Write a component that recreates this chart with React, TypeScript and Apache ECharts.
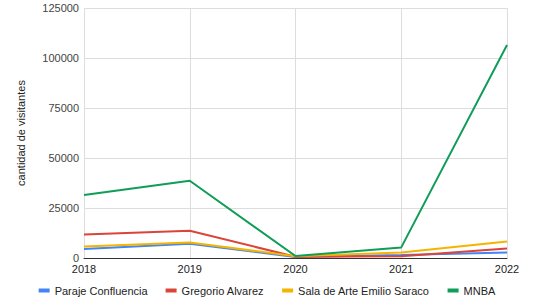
import React, { useEffect, useRef } from "react";
import * as echarts from "echarts";

const years = ["2018", "2019", "2020", "2021", "2022"];
const parajeConfluencia = [4500, 7100, 500, 1500, 2800];
const gregorioAlvarez = [11700, 13600, 600, 900, 4700];
const salaArte = [5800, 7700, 900, 2800, 8300];
const mnba = [31500, 38600, 1000, 5300, 106500];

const seriesDefs = [
  { name: "Paraje Confluencia", data: parajeConfluencia, color: "#4285F4" },
  { name: "Gregorio Alvarez", data: gregorioAlvarez, color: "#DB4437" },
  { name: "Sala de Arte Emilio Saraco", data: salaArte, color: "#F4B400" },
  { name: "MNBA", data: mnba, color: "#0F9D58" },
];

const FONT = "Liberation Sans";

export default function App() {
  const ref = useRef<HTMLDivElement>(null);
  useEffect(() => {
    if (!ref.current) return;
    const chart = echarts.init(ref.current, undefined, { renderer: "svg" });
    chart.setOption({
      animation: false,
      textStyle: { fontFamily: FONT },
      grid: { left: 84, right: 27, top: 8, bottom: 49 },
      legend: {
        bottom: 6,
        left: "center",
        icon: "rect",
        itemWidth: 11,
        itemHeight: 4,
        itemGap: 18,
        textStyle: { fontSize: 11, color: "#222", fontFamily: FONT },
        data: seriesDefs.map((s) => s.name),
      },
      xAxis: {
        type: "category",
        data: years,
        boundaryGap: false,
        axisLine: { lineStyle: { color: "#333", width: 1 } },
        axisTick: { show: false },
        axisLabel: { fontSize: 11, color: "#222", margin: 5, fontFamily: FONT },
        splitLine: { show: true, lineStyle: { color: "#ddd" } },
      },
      yAxis: {
        type: "value",
        min: 0,
        max: 125000,
        interval: 25000,
        name: "cantidad de visitantes",
        nameLocation: "middle",
        nameGap: 58,
        nameTextStyle: { fontSize: 11, color: "#222", fontFamily: FONT },
        axisLine: { show: false },
        axisTick: { show: false },
        axisLabel: {
          fontSize: 11,
          color: "#444",
          margin: 5,
          fontFamily: FONT,
          formatter: (v: number) => String(v),
        },
        splitLine: { lineStyle: { color: "#ddd" } },
      },
      series: seriesDefs.map((s) => ({
        name: s.name,
        type: "line",
        data: s.data,
        symbol: "none",
        lineStyle: { width: 2, color: s.color },
        itemStyle: { color: s.color },
      })),
    });
    return () => chart.dispose();
  }, []);
  return (
    <div
      ref={ref}
      style={{ position: "absolute", left: 0, top: 0, width: 534, height: 307 }}
    />
  );
}
